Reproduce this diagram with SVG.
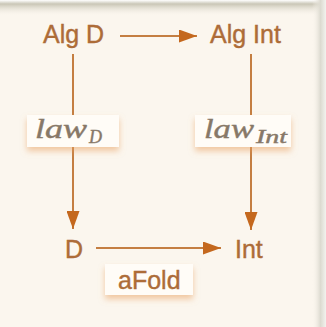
<svg xmlns="http://www.w3.org/2000/svg" width="326" height="327" viewBox="0 0 326 327">
<style>
.lbl{font-family:"Liberation Sans",Arial,sans-serif;font-size:25px;fill:#ad6c38;stroke:#ad6c38;stroke-width:0.4}
.law{font-family:"Liberation Serif","Times New Roman",serif;font-style:italic;fill:#877868;stroke:#877868;stroke-width:0.4}
.edge{stroke:#c47e42;stroke-width:2;fill:none}
.box{fill:#fffcf7;filter:url(#sh)}
</style>
<defs>
<marker id="ah" viewBox="0 0 18 13" refX="18" refY="6.5" markerWidth="18" markerHeight="13" markerUnits="userSpaceOnUse" orient="auto">
<path d="M0,0 L18,6.5 L0,13 z" fill="#c4681e"/>
</marker>
<filter id="sh" x="-20%" y="-30%" width="140%" height="180%">
<feDropShadow dx="0" dy="4" stdDeviation="3" flood-color="#e8a060" flood-opacity="0.55"/>
</filter>
<linearGradient id="topg" x1="0" y1="0" x2="0" y2="1">
<stop offset="0" stop-color="#ffffff"/>
<stop offset="0.25" stop-color="#c9c6b6"/>
<stop offset="1" stop-color="#fbf6ee" stop-opacity="0"/>
</linearGradient>
<linearGradient id="rightg" x1="0" y1="0" x2="1" y2="0">
<stop offset="0" stop-color="#fbf6ee" stop-opacity="0"/>
<stop offset="0.6" stop-color="#dcdad0"/>
<stop offset="1" stop-color="#f2f2ee"/>
</linearGradient>
</defs>
<rect width="326" height="327" fill="#fbf6ee"/>
<rect x="0" y="0" width="326" height="16" fill="url(#topg)"/>
<rect x="312" y="0" width="14" height="327" fill="url(#rightg)"/>
<g id="connectors">
<line class="edge" x1="120" y1="36" x2="197" y2="36" marker-end="url(#ah)"/>
<line class="edge" x1="73" y1="54" x2="73" y2="229" marker-end="url(#ah)"/>
<line class="edge" x1="251" y1="54" x2="251" y2="230" marker-end="url(#ah)"/>
<line class="edge" x1="96" y1="248" x2="221" y2="248" marker-end="url(#ah)"/>
</g>
<g id="algD"><text class="lbl" x="43" y="43">Alg D</text></g>
<g id="algInt"><text class="lbl" x="210" y="43">Alg Int</text></g>
<g id="D"><text class="lbl" x="65" y="258">D</text></g>
<g id="Int"><text class="lbl" x="235" y="258">Int</text></g>
<g id="lawD">
<rect class="box" x="27" y="115" width="92" height="32"/>
<text class="law" x="35" y="138" font-size="27" textLength="52" lengthAdjust="spacingAndGlyphs">law</text>
<text class="law" x="89" y="143" font-size="18">D</text>
</g>
<g id="lawInt">
<rect class="box" x="195" y="115" width="96" height="32"/>
<text class="law" x="204" y="138" font-size="27" textLength="50" lengthAdjust="spacingAndGlyphs">law</text>
<text class="law" x="256" y="143" font-size="18" textLength="31" lengthAdjust="spacingAndGlyphs">Int</text>
</g>
<g id="aFold">
<rect class="box" x="105" y="264" width="88" height="31"/>
<text class="lbl" x="118" y="289" font-size="24">aFold</text>
</g>
</svg>
